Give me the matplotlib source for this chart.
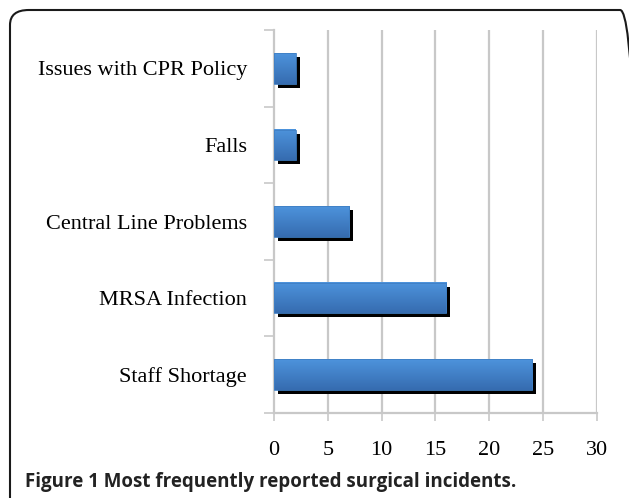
import numpy as np
import matplotlib
matplotlib.use("Agg")
import matplotlib.pyplot as plt
from matplotlib.patches import FancyBboxPatch

# data
categories = ["Staff Shortage", "MRSA Infection", "Central Line Problems", "Falls", "Issues with CPR Policy"]
counts = [24, 16, 7, 2, 2]
x_ticks = [0, 5, 10, 15, 20, 25, 30]
caption = "Figure 1 Most frequently reported surgical incidents."

fig = plt.figure(figsize=(6.29, 4.98), dpi=100)
fig.patch.set_facecolor("white")

# rounded frame around the figure (clipped at right/bottom)
frame = FancyBboxPatch((10 / 629, -0.05), 1.0, 1 - 10 / 498 + 0.05,
                       boxstyle="round,pad=0,rounding_size=0.03",
                       transform=fig.transFigure, fill=False,
                       edgecolor="#1a1a1a", linewidth=1.5)
fig.patches.append(frame)

ax = fig.add_axes([274 / 629, 1 - 413 / 498, (597 - 274) / 629, (413 - 30) / 498])
ax.set_xlim(0, 30)
ax.set_ylim(-0.5, len(categories) - 0.5)

grid_col = "#c8c8c8"
for v in x_ticks[1:]:
    ax.axvline(v, color=grid_col, linewidth=1.6, zorder=0)

bar_h = 0.40
top_col = np.array([0x4d, 0x93, 0xdc]) / 255
bot_col = np.array([0x36, 0x6c, 0xb0]) / 255
grad = np.linspace(0, 1, 64)[:, None, None]
img = top_col * (1 - grad) + bot_col * grad

# shadow offset in data units (about 4 px)
dx = 4 * 30 / 323
dy = 4 * 5 / 383
for i, v in enumerate(counts):
    ax.add_patch(plt.Rectangle((dx, i - bar_h / 2 - dy), v, bar_h,
                               facecolor="black", edgecolor="none", zorder=2))
    ax.imshow(img, extent=(0, v, i - bar_h / 2, i + bar_h / 2),
              aspect="auto", origin="upper", zorder=3, interpolation="bilinear")
    ax.add_patch(plt.Rectangle((0, i - bar_h / 2), v, bar_h,
                               facecolor="none", edgecolor="#3f7fc4", linewidth=0.6, zorder=4))
ax.set_xlim(0, 30)
ax.set_ylim(-0.5, len(categories) - 0.5)

for s in ["top", "right"]:
    ax.spines[s].set_visible(False)
for s in ["left", "bottom"]:
    ax.spines[s].set_color(grid_col)
    ax.spines[s].set_linewidth(1.6)

ax.set_xticks(x_ticks)
ax.set_xticklabels([str(t) for t in x_ticks], family="Liberation Serif", fontsize=16)
ax.tick_params(axis="x", length=6, width=1.2, color=grid_col, pad=14)

# category labels centered, ticks on boundaries
ax.set_yticks(np.arange(len(categories)))
ax.set_yticklabels(categories, family="Liberation Serif", fontsize=16)
ax.tick_params(axis="y", length=0, pad=19.5)
ax.set_yticks(np.arange(len(categories) + 1) - 0.5, minor=True)
ax.tick_params(axis="y", which="minor", length=7, width=1.2, color=grid_col)

fig.text(25 / 629, 1 - 482 / 498, caption, family="Open Sans", fontweight="bold",
         fontsize=13.5, color="#222222", va="center", ha="left")

fig.savefig("out.png", dpi=100)
